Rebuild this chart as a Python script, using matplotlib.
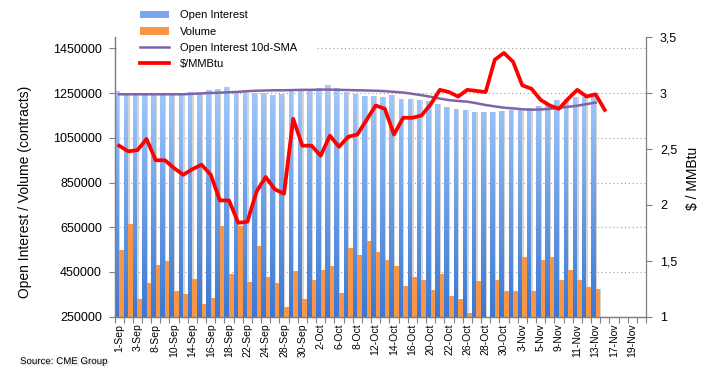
import numpy as np
import matplotlib
matplotlib.use("Agg")
import matplotlib.pyplot as plt
from matplotlib.path import Path
from matplotlib.patches import Patch, Rectangle
from matplotlib.lines import Line2D
from matplotlib.colors import LinearSegmentedColormap
from matplotlib.ticker import FuncFormatter
import matplotlib.patheffects as pe

plt.rcParams['font.family'] = ['Liberation Sans', 'DejaVu Sans']

# trading days shown on the category axis
dates = ['1-Sep', '2-Sep', '3-Sep', '4-Sep', '8-Sep', '9-Sep', '10-Sep', '11-Sep', '14-Sep', '15-Sep',
         '16-Sep', '17-Sep', '18-Sep', '21-Sep', '22-Sep', '23-Sep', '24-Sep', '25-Sep', '28-Sep', '29-Sep',
         '30-Sep', '1-Oct', '2-Oct', '5-Oct', '6-Oct', '7-Oct', '8-Oct', '9-Oct', '12-Oct', '13-Oct',
         '14-Oct', '15-Oct', '16-Oct', '19-Oct', '20-Oct', '21-Oct', '22-Oct', '23-Oct', '26-Oct', '27-Oct',
         '28-Oct', '29-Oct', '30-Oct', '2-Nov', '3-Nov', '4-Nov', '5-Nov', '6-Nov', '9-Nov', '10-Nov',
         '11-Nov', '12-Nov', '13-Nov', '16-Nov', '17-Nov', '18-Nov', '19-Nov', '20-Nov']

# contracts (thousands)
open_interest = [1260, 1249, 1246, 1249, 1246, 1246, 1244, 1246, 1255, 1251,
                 1265, 1269, 1279, 1257, 1265, 1253, 1250, 1243, 1247, 1265,
                 1270, 1270, 1275, 1287, 1275, 1255, 1247, 1238, 1238, 1232,
                 1243, 1223, 1223, 1220, 1214, 1202, 1188, 1179, 1176, 1167,
                 1167, 1167, 1171, 1176, 1179, 1182, 1194, 1202, 1219, 1224,
                 1234, 1235, 1239]
volume = [547, 663, 328, 400, 480, 498, 364, 350, 417, 306,
          333, 658, 440, 654, 405, 565, 426, 400, 292, 453,
          328, 413, 458, 475, 355, 556, 525, 587, 538, 502,
          475, 386, 426, 413, 368, 440, 342, 328, 266, 408,
          240, 413, 364, 364, 516, 364, 502, 516, 413, 458,
          413, 382, 373]
oi_sma = [1245, 1245, 1245, 1245, 1245, 1245, 1245, 1245, 1247, 1249,
          1251, 1252, 1254, 1256, 1259, 1261, 1262, 1263, 1263, 1264,
          1265, 1265, 1266, 1266, 1265, 1264, 1263, 1262, 1261, 1259,
          1256, 1253, 1247, 1241, 1234, 1226, 1219, 1215, 1212, 1205,
          1197, 1191, 1185, 1182, 1178, 1176, 1177, 1180, 1184, 1189,
          1194, 1201, 1208]
# $/MMBtu
price = [2.53, 2.48, 2.49, 2.59, 2.40, 2.40, 2.33, 2.27, 2.32, 2.36,
         2.27, 2.04, 2.04, 1.84, 1.85, 2.12, 2.25, 2.14, 2.10, 2.77,
         2.53, 2.53, 2.44, 2.62, 2.52, 2.61, 2.63, 2.76, 2.89, 2.86,
         2.63, 2.78, 2.78, 2.80, 2.90, 3.03, 3.01, 2.97, 3.03, 3.02,
         3.01, 3.30, 3.36, 3.28, 3.07, 3.04, 2.94, 2.89, 2.86, 2.95,
         3.03, 2.97, 2.99, 2.85]

W, H = 715, 381
fig = plt.figure(figsize=(W / 100, H / 100), dpi=100)
left, right, top, bottom = 114.5, 646, 37.3, 316.7
ax = fig.add_axes([left / W, 1 - bottom / H, (right - left) / W, (bottom - top) / H])

x = np.arange(len(dates))
n = len(open_interest)
oi = np.array(open_interest) * 1000
vol = np.array(volume) * 1000
sma = np.array(oi_sma) * 1000

# soft shadows behind the bars
ax.bar(x[:n] - 0.25 + 0.14, oi, width=0.5, color='#d4d4d4', zorder=1)
ax.bar(x[:n] + 0.25 + 0.14, vol, width=0.5, color='#d4d4d4', zorder=1)

blue = ax.bar(x[:n] - 0.25, oi, width=0.5, color='none', zorder=2)
ax.bar(x[:n] + 0.25, vol, width=0.5, color='#f79646', zorder=3)

# vertical gradient for open interest bars
cmap = LinearSegmentedColormap.from_list('oi', ['#3b77d3', '#6d9fe8', '#a6cbfb'])
grad = np.linspace(0, 1, 256).reshape(-1, 1)
im = ax.imshow(grad, extent=(-0.5, len(dates) - 0.5, 250000, 1290000), origin='lower',
               aspect='auto', cmap=cmap, zorder=2, interpolation='bilinear')
clip = Path.make_compound_path(*[b.get_path().transformed(b.get_patch_transform()) for b in blue])
im.set_clip_path(clip, ax.transData)

ax.plot(x[:n], sma, color='#7f63a6', lw=1.8, zorder=4)

ax.set_xlim(-0.5, len(dates) - 0.5)
ax.set_ylim(250000, 1500000)
ax.set_yticks(np.arange(250000, 1450001, 200000))
ax.yaxis.set_major_formatter(FuncFormatter(lambda v, p: f'{v:.0f}'))
ax.set_axisbelow(True)
ax.grid(axis='y', linestyle=(0, (1, 2.5)), color='#9a9a9a', lw=0.8)

ax.set_xticks(x[::2])
ax.set_xticklabels(dates[::2], rotation=90, fontsize=7.5)
ax.set_xticks(np.arange(-0.5, len(dates), 1), minor=True)
ax.tick_params(axis='x', which='major', length=0, pad=5)
ax.tick_params(axis='x', which='minor', length=4, color='#808080', width=0.8)
ax.tick_params(axis='y', length=4, color='#808080', width=0.8, labelsize=9, pad=5)

ax2 = ax.twinx()
ax2.plot(x[:len(price)], price, color='#ff0000', lw=2.7, zorder=5)
ax2.set_ylim(1, 3.5)
ax2.set_yticks([1, 1.5, 2, 2.5, 3, 3.5])
ax2.set_yticklabels(['1', '1,5', '2', '2,5', '3', '3,5'])
ax2.tick_params(axis='y', length=4, color='#808080', width=0.8, labelsize=9, pad=6)

for a in (ax, ax2):
    a.spines['top'].set_visible(False)
    for s in ('left', 'right', 'bottom'):
        a.spines[s].set_color('#808080')
        a.spines[s].set_linewidth(0.9)
ax.spines['right'].set_visible(False)

fig.text(25 / W, 1 - 192 / H, 'Open Interest / Volume (contracts)', rotation=90,
         ha='center', va='center', fontsize=10)
fig.text(693 / W, 1 - 178 / H, '$ / MMBtu', rotation=90, ha='center', va='center', fontsize=10)
fig.text(20 / W, 1 - 361 / H, 'Source: CME Group', ha='left', va='center', fontsize=7,
         path_effects=[pe.withSimplePatchShadow(offset=(1, -1), shadow_rgbFace='#999999', alpha=0.4)])

# legend on a white box over the top of the plot (leaves the left spine visible)
fig.patches.append(Rectangle((116.5 / W, 1 - 77 / H), 199.5 / W, 72 / H, transform=fig.transFigure,
                             facecolor='white', edgecolor='none', zorder=1))
handles = [Patch(facecolor='#7aa8ee', edgecolor='none'),
           Patch(facecolor='#f79646', edgecolor='none'),
           Line2D([], [], color='#7f63a6', lw=1.8),
           Line2D([], [], color='#ff0000', lw=2.7)]
labels = ['Open Interest', 'Volume', 'Open Interest 10d-SMA', '$/MMBtu']
fig.legend(handles, labels, loc='upper left', bbox_to_anchor=(135.6 / W, 1 - 6 / H),
           borderaxespad=0, frameon=False, fontsize=8, handlelength=2.6, handletextpad=1.0,
           labelspacing=0.55, borderpad=0.4)

fig.savefig('out.png', dpi=100)
